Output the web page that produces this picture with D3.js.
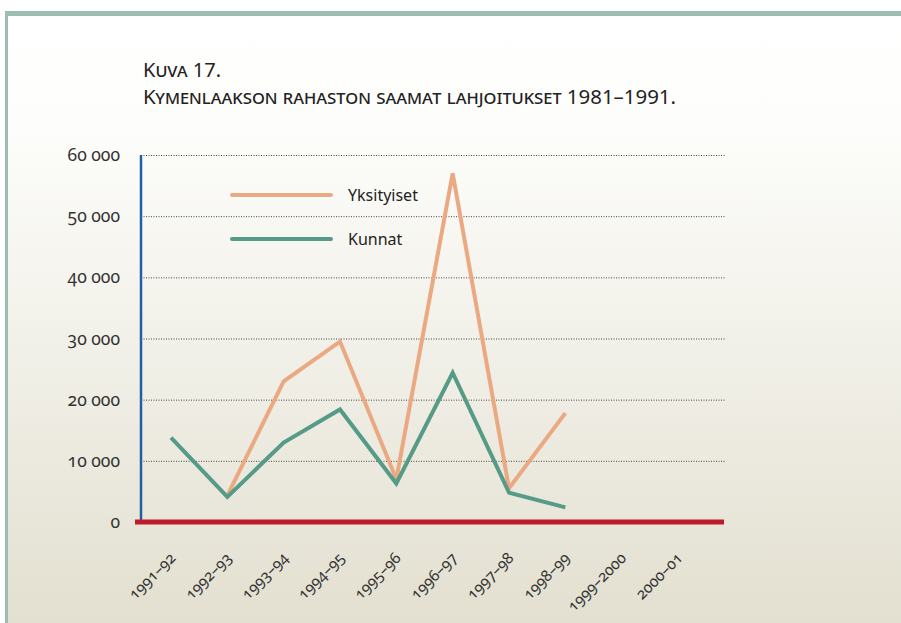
<!DOCTYPE html>
<html lang="fi">
<head>
<meta charset="UTF-8">
<title>Kuva 17</title>
<script src="https://cdn.jsdelivr.net/npm/d3@7/dist/d3.min.js"></script>
<style>
    html, body { margin: 0; padding: 0; background: #fff; }
    svg { display: block; font-family: "Noto Sans", "Open Sans", sans-serif; }
    .tick text, .num { font-feature-settings: "onum"; font-variant-numeric: oldstyle-nums; }
</style>
</head>
<body>
<div id="chart"></div>
<script>
    var years = ['1991–92', '1992–93', '1993–94', '1994–95', '1995–96',
                 '1996–97', '1997–98', '1998–99', '1999–2000', '2000–01'];
    var yksityiset = [null, 4300, 23000, 29500, 7000, 57000, 5500, 17800, null, null];
    var kunnat = [13800, 4100, 13000, 18400, 6300, 24400, 4800, 2400, null, null];
    var yTicks = [0, 10000, 20000, 30000, 40000, 50000, 60000];

    var W = 901, H = 623;
    var svg = d3.select('#chart').append('svg').attr('width', W).attr('height', H);

    var grad = svg.append('defs').append('linearGradient')
        .attr('id', 'bg').attr('x1', 0).attr('y1', 0).attr('x2', 0).attr('y2', 1);
    grad.append('stop').attr('offset', '0%').attr('stop-color', '#ffffff');
    grad.append('stop').attr('offset', '18%').attr('stop-color', '#fdfdfb');
    grad.append('stop').attr('offset', '100%').attr('stop-color', '#e2dfcf');

    // frame
    svg.append('rect').attr('x', 5).attr('y', 11).attr('width', W).attr('height', H)
        .attr('fill', '#9bbdb3');
    svg.append('rect').attr('x', 8).attr('y', 16).attr('width', W).attr('height', H)
        .attr('fill', 'url(#bg)');

    // title
    var title = svg.append('text').attr('x', 143).attr('fill', '#222')
        .attr('font-size', 20).style('font-variant', 'small-caps');
    title.append('tspan').attr('x', 143).attr('y', 77).text('Kuva 17.');
    title.append('tspan').attr('x', 143).attr('y', 104)
        .attr('textLength', 533).attr('lengthAdjust', 'spacingAndGlyphs')
        .text('Kymenlaakson rahaston saamat lahjoitukset 1981–1991.');

    var x = d3.scalePoint().domain(years).range([171, 678]);
    var y = d3.scaleLinear().domain([0, 60000]).range([522, 155]);
    var left = 141, right = 726;

    // grid
    svg.append('g').selectAll('line').data(yTicks.filter(d => d > 0)).join('line')
        .attr('x1', left).attr('x2', right)
        .attr('y1', d => y(d) + 0.5).attr('y2', d => y(d) + 0.5)
        .attr('stroke', '#444').attr('stroke-width', 1).attr('stroke-dasharray', '1,1.5');

    // y axis labels
    var yAxis = svg.append('g').attr('transform', 'translate(' + left + ',0)')
        .call(d3.axisLeft(y).tickValues(yTicks).tickSize(0).tickPadding(21)
            .tickFormat(d => d3.format(',')(d).replace(',', ' ')));
    yAxis.select('.domain').remove();
    yAxis.selectAll('text').attr('font-size', 17.5).attr('fill', '#333')
        .attr('font-family', '"Noto Sans", sans-serif');

    // blue vertical axis
    svg.append('line').attr('x1', left).attr('x2', left)
        .attr('y1', y(60000)).attr('y2', y(0))
        .attr('stroke', '#1f5fa6').attr('stroke-width', 2.5);

    // x axis labels
    var xAxis = svg.append('g').attr('transform', 'translate(0,' + y(0) + ')')
        .call(d3.axisBottom(x).tickSize(0).tickPadding(0));
    xAxis.select('.domain').remove();
    xAxis.selectAll('text')
        .attr('font-size', 15.5).attr('fill', '#333').attr('font-family', '"Noto Sans", sans-serif')
        .attr('text-anchor', 'end').attr('dy', 0)
        .attr('transform', 'translate(5,37) rotate(-45)');

    // series
    var line = d3.line().defined(d => d != null)
        .x((d, i) => x(years[i])).y(d => y(d));
    svg.append('path').datum(yksityiset).attr('d', line)
        .attr('fill', 'none').attr('stroke', '#eba983').attr('stroke-width', 4)
        .attr('stroke-linejoin', 'miter');
    svg.append('path').datum(kunnat).attr('d', line)
        .attr('fill', 'none').attr('stroke', '#569a88').attr('stroke-width', 4)
        .attr('stroke-linejoin', 'miter');

    // red baseline
    svg.append('line').attr('x1', 135).attr('x2', 724)
        .attr('y1', y(0)).attr('y2', y(0))
        .attr('stroke', '#c01b2b').attr('stroke-width', 5);

    // legend
    var legend = [{name: 'Yksityiset', color: '#eba983', y: 195},
                  {name: 'Kunnat', color: '#569a88', y: 239}];
    var lg = svg.append('g').selectAll('g').data(legend).join('g');
    lg.append('line').attr('x1', 232).attr('x2', 331)
        .attr('y1', d => d.y).attr('y2', d => d.y)
        .attr('stroke', d => d.color).attr('stroke-width', 4).attr('stroke-linecap', 'round');
    lg.append('text').attr('x', 348).attr('y', d => d.y).attr('dy', '0.35em')
        .attr('font-size', 16).attr('fill', '#222').text(d => d.name);
</script>
</body>
</html>
